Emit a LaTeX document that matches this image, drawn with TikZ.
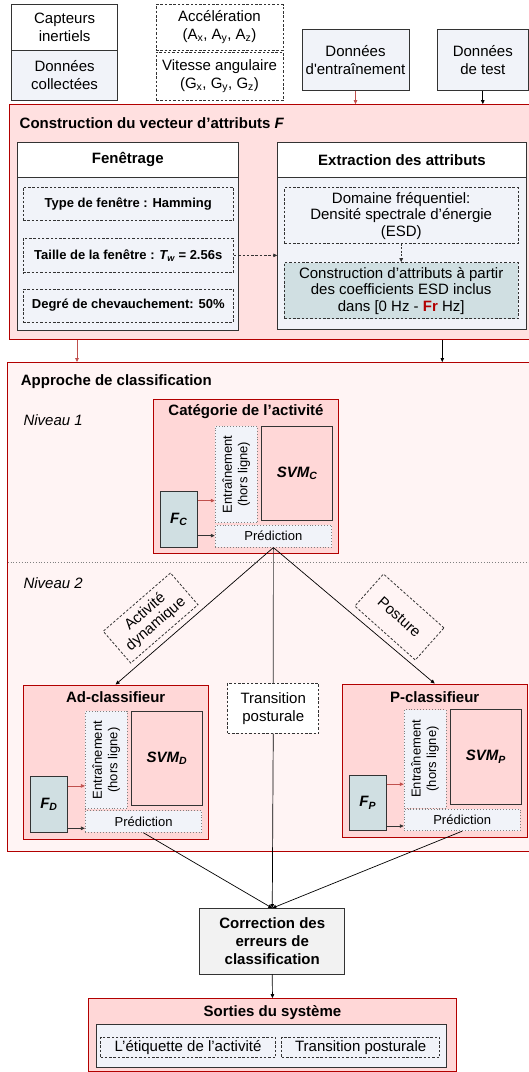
\documentclass[tikz,border=0pt]{standalone}
\usepackage{fontspec}
\setmainfont{Liberation Sans}
\usetikzlibrary{arrows.meta,calc}
\definecolor{rd}{HTML}{B20000}
\definecolor{rdl}{HTML}{C0504D}
\definecolor{pinkA}{HTML}{FFE0E0}
\definecolor{pinkB}{HTML}{FFF4F4}
\definecolor{pinkC}{HTML}{FFD7D7}
\definecolor{bluegray}{HTML}{F1F3F9}
\definecolor{tealc}{HTML}{D0DFE2}
\definecolor{dk}{HTML}{333333}
\definecolor{lgray}{HTML}{F2F2F2}
\newcommand{\mkbox}[7]{\node[#6, minimum width={(#4-#2)*1pt}, minimum height={(#5-#3)*1pt}] (#1) at ({(#2+#4)/2},{(#3+#5)/2}) {#7};}
\tikzset{
  fa/.style={font=\fontsize{15}{18}\selectfont},
  fe/.style={font=\fontsize{15}{16.5}\selectfont},
  fb/.style={font=\fontsize{15}{18}\selectfont\bfseries},
  fc/.style={font=\fontsize{13}{15}\selectfont\bfseries},
  fd/.style={font=\fontsize{13}{15.5}\selectfont},
  base/.style={rectangle, inner sep=1pt, align=center, fa},
  solidbox/.style={base, draw=dk, line width=0.8pt},
  dashbox/.style={base, draw=dk, dash pattern=on 2.5pt off 1.8pt, line width=0.8pt},
  dotbox/.style={base, draw=gray, dotted, line width=0.9pt},
  redbox/.style={base, draw=rd, line width=0.9pt},
  arr/.style={-{Triangle[length=4pt,width=3.5pt]}, line width=0.7pt},
  plain/.style={line width=0.7pt},
}
\begin{document}
\begin{tikzpicture}[x=1pt,y=-1pt]
\useasboundingbox (0,0) rectangle (529,1072);
% top boxes
\mkbox{capt}{11.8}{4}{117.4}{50}{solidbox, fill=white}{Capteurs\\inertiels}
\mkbox{coll}{11.8}{50}{117.4}{100.5}{solidbox, fill=bluegray}{Données\\collectées}
\mkbox{acc}{156}{4.7}{283}{50}{dashbox}{Accélération\\(A\textsubscript{x}, A\textsubscript{y}, A\textsubscript{z})}
\mkbox{vit}{156}{52}{283}{100.5}{dashbox}{Vitesse angulaire\\(G\textsubscript{x}, G\textsubscript{y}, G\textsubscript{z})}
\mkbox{dent}{302}{29.7}{409}{90.4}{solidbox, fill=bluegray}{Données\\d\textquotesingle entraînement}
\mkbox{dtest}{437.6}{29.7}{528}{90.4}{solidbox, fill=bluegray}{Données\\de test}
% construction
\mkbox{constr}{9.4}{104.6}{540}{339.6}{redbox, fill=pinkA}{}
\node[anchor=west, fb, inner sep=0] (constrT) at (19.5,123.3) {Construction du vecteur d’attributs \textit{F}};
\mkbox{fenH}{17.5}{142.8}{238}{177}{solidbox, fill=white, fb}{Fenêtrage}
\mkbox{fenB}{17.5}{177}{238}{330.5}{solidbox, fill=bluegray}{}
\mkbox{type}{23}{187}{233.5}{220.8}{dashbox, fill=bluegray, fc}{Type de fenêtre : Hamming}
\mkbox{taille}{23}{238}{233.5}{272.7}{dashbox, fill=bluegray, fc}{Taille de la fenêtre : \textit{T\textsubscript{w}} = 2.56s}
\mkbox{degre}{23}{289}{233.5}{322}{dashbox, fill=bluegray, fc}{Degré de chevauchement: 50\%}
\mkbox{extH}{277.7}{142.8}{526.3}{177}{solidbox, fill=white, fb}{Extraction des attributs}
\mkbox{extB}{277.7}{177}{526.3}{329.8}{solidbox, fill=bluegray}{}
\mkbox{dom}{284.4}{187.7}{518}{243.4}{dashbox, fill=bluegray, fe}{Domaine fréquentiel:\\Densité spectrale d’énergie\\(ESD)}
\mkbox{cattr}{284.4}{262.6}{518}{318.7}{dashbox, fill=tealc, fe}{Construction d’attributs à partir\\des coefficients ESD inclus\\dans [0 Hz - \textcolor{rd}{\textbf{Fr}} Hz]}
\draw[arr, dk, dash pattern=on 2.5pt off 1.8pt] (taille.east) -- (taille.east -| extB.west);
\draw[arr, dk, dash pattern=on 2pt off 1.5pt] (dom.south) -- (cattr.north);
\draw[arr, rdl] (dent.south) -- (dent.south |- constr.north);
\draw[arr] (dtest.south) -- (dtest.south |- constr.north);
% approche
\mkbox{appr}{7.8}{362.5}{540}{851.3}{redbox, fill=pinkB}{}
\coordinate (ka) at (77,0);
\coordinate (kb) at (442.3,0);
\draw[arr, rdl] (constr.south -| ka) -- (appr.north -| ka);
\draw[arr] (constr.south -| kb) -- (appr.north -| kb);
\node[anchor=west, fb, inner sep=0] (apprT) at (20.7,382) {Approche de classification};
\node[anchor=west, fa, inner sep=0] (niv1) at (23.3,420.6) {\textit{Niveau 1}};
\coordinate (dl) at (7.8,562.5);
\coordinate (dr) at (529,562.5);
\draw[gray, dotted, line width=0.8pt] (dl) -- (dr);
\node[anchor=west, fa, inner sep=0] (niv2) at (23.3,583) {\textit{Niveau 2}};
% categorie
\mkbox{cat}{153.5}{399.6}{338.4}{553.2}{redbox, fill=pinkC}{}
\node[fb, inner sep=0] (catT) at (246,412) {Catégorie de l’activité};
\mkbox{entC}{215.2}{426}{257.4}{522.8}{dotbox, fill=bluegray}{}
\node[rotate=90, align=center, fd, inner sep=0] (entCt) at (entC) {Entraînement\\(hors ligne)};
\mkbox{svmC}{261.5}{426}{332.7}{520.4}{solidbox, fill=pinkC, fb}{\textit{SVM\textsubscript{C}}}
\mkbox{fC}{160.3}{491.4}{197.4}{547.1}{solidbox, fill=tealc, fb}{\textit{F\textsubscript{C}}}
\mkbox{predC}{215.2}{525.2}{331.6}{547.1}{dotbox, fill=bluegray, fd}{Prédiction}
\coordinate (fCr) at ($(fC.north east)!0.17!(fC.south east)$);
\coordinate (fCb) at ($(fC.north east)!0.79!(fC.south east)$);
\draw[arr, rdl] (fCr) -- (fCr -| entC.west);
\draw[arr, dk] (fCb) -- (fCb -| predC.west);
% level 2
\node[dashbox, fe, rotate=40.9, minimum width=89pt, minimum height=42pt] (actdyn) at (150.6,618) {Activité\\dynamique};
\node[dashbox, rotate=-41.7, minimum width=81pt, minimum height=43pt] (post) at (399.4,617) {Posture};
\mkbox{adc}{23}{685}{208.2}{839.1}{redbox, fill=pinkC}{}
\node[fb, inner sep=0] (adcT) at (115.7,697.4) {Ad-classifieur};
\mkbox{entD}{85.4}{711.3}{127.2}{808.8}{dotbox, fill=bluegray}{}
\node[rotate=90, align=center, fd, inner sep=0] (entDt) at (entD) {Entraînement\\(hors ligne)};
\mkbox{svmD}{130.9}{711.3}{202.8}{805.7}{solidbox, fill=pinkC, fb}{\textit{SVM\textsubscript{D}}}
\mkbox{fD}{30.4}{776.7}{67.5}{832.4}{solidbox, fill=tealc, fb}{\textit{F\textsubscript{D}}}
\mkbox{predD}{85.4}{810.5}{201.8}{832.4}{dotbox, fill=bluegray, fd}{Prédiction}
\coordinate (fDr) at ($(fD.north east)!0.17!(fD.south east)$);
\coordinate (fDb) at ($(fD.north east)!0.92!(fD.south east)$);
\draw[arr, rdl] (fDr) -- (fDr -| entD.west);
\draw[arr, dk] (fDb) -- (fDb -| predD.west);
\mkbox{trans}{227.7}{683.3}{318.8}{733.2}{dashbox, fill=white}{Transition\\posturale}
\mkbox{pc}{342.4}{684}{527}{837.8}{redbox, fill=pinkC}{}
\node[fb, inner sep=0] (pcT) at (434.7,696.8) {P-classifieur};
\mkbox{entP}{404.2}{709.6}{446}{808.1}{dotbox, fill=bluegray}{}
\node[rotate=90, align=center, fd, inner sep=0] (entPt) at (entP) {Entraînement\\(hors ligne)};
\mkbox{svmP}{450.4}{709.6}{521.3}{804}{solidbox, fill=pinkC, fb}{\textit{SVM\textsubscript{P}}}
\mkbox{fP}{349.2}{775}{386.3}{830.7}{solidbox, fill=tealc, fb}{\textit{F\textsubscript{P}}}
\mkbox{predP}{404.2}{809.1}{520.2}{830.7}{dotbox, fill=bluegray, fd}{Prédiction}
\coordinate (fPr) at ($(fP.north east)!0.17!(fP.south east)$);
\coordinate (fPb) at ($(fP.north east)!0.91!(fP.south east)$);
\draw[arr, rdl] (fPr) -- (fPr -| entP.west);
\draw[arr, dk] (fPb) -- (fPb -| predP.west);
% connectors level 1 -> 2
\draw[arr] (predC.south) -- (adc.north);
\draw[arr] (predC.south) -- (pc.north);
\draw[plain, dk] (predC.south) -- (trans.north);
% bottom
\mkbox{corr}{199.7}{908.5}{344.8}{974}{solidbox, fill=lgray, fb}{Correction des\\erreurs de\\classification}
\draw[arr] (trans.south) -- (corr.north);
\draw[arr] (predD.south) -- (corr.north);
\draw[arr] (predP.south) -- (corr.north);
\mkbox{sort}{88.4}{998.6}{456.5}{1071.5}{redbox, fill=pinkC}{}
\node[fb, inner sep=0] (sortT) at (272.5,1013) {Sorties du système};
\mkbox{sortin}{96.8}{1024.5}{446}{1067.7}{solidbox, fill=bluegray}{}
\mkbox{etiq}{100.5}{1037.4}{275.6}{1057.6}{dashbox, fill=bluegray}{L’étiquette de l’activité}
\mkbox{tpost}{281.7}{1037.4}{439.6}{1057.6}{dashbox, fill=bluegray}{Transition posturale}
\draw[arr] (corr.south) -- (sort.north);
\end{tikzpicture}
\end{document}
